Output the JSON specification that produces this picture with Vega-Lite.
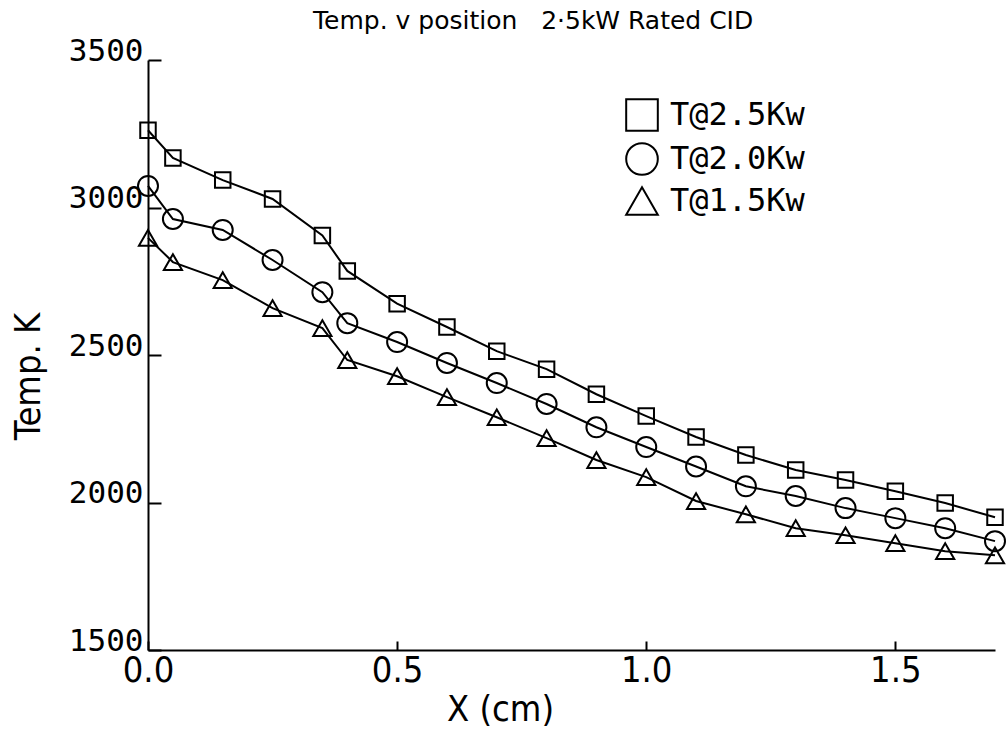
{
  "$schema": "https://vega.github.io/schema/vega-lite/v6.json",
  "width": 847,
  "height": 590,
  "autosize": {"type": "none"},
  "padding": {"left": 148, "top": 60, "right": 11, "bottom": 81},
  "background": "white",
  "config": {"view": {"stroke": null}},
  "title": {
    "text": "Temp. v position \u00a0 2·5kW Rated CID",
    "anchor": "start",
    "frame": "group",
    "dx": 165,
    "offset": -19,
    "baseline": "alphabetic",
    "font": "DejaVu Sans",
    "fontSize": 25,
    "fontWeight": "normal",
    "color": "black"
  },
  "data": {
    "values": [
      {"x": 0.0, "T": 3262, "series": "T@2.5Kw"},
      {"x": 0.05, "T": 3168, "series": "T@2.5Kw"},
      {"x": 0.15, "T": 3093, "series": "T@2.5Kw"},
      {"x": 0.25, "T": 3029, "series": "T@2.5Kw"},
      {"x": 0.35, "T": 2905, "series": "T@2.5Kw"},
      {"x": 0.40, "T": 2785, "series": "T@2.5Kw"},
      {"x": 0.5, "T": 2674, "series": "T@2.5Kw"},
      {"x": 0.6, "T": 2595, "series": "T@2.5Kw"},
      {"x": 0.7, "T": 2513, "series": "T@2.5Kw"},
      {"x": 0.8, "T": 2452, "series": "T@2.5Kw"},
      {"x": 0.9, "T": 2367, "series": "T@2.5Kw"},
      {"x": 1.0, "T": 2293, "series": "T@2.5Kw"},
      {"x": 1.1, "T": 2222, "series": "T@2.5Kw"},
      {"x": 1.2, "T": 2161, "series": "T@2.5Kw"},
      {"x": 1.3, "T": 2110, "series": "T@2.5Kw"},
      {"x": 1.4, "T": 2076, "series": "T@2.5Kw"},
      {"x": 1.5, "T": 2038, "series": "T@2.5Kw"},
      {"x": 1.6, "T": 1998, "series": "T@2.5Kw"},
      {"x": 1.7, "T": 1950, "series": "T@2.5Kw"},
      {"x": 0.0, "T": 3073, "series": "T@2.0Kw"},
      {"x": 0.05, "T": 2961, "series": "T@2.0Kw"},
      {"x": 0.15, "T": 2924, "series": "T@2.0Kw"},
      {"x": 0.25, "T": 2822, "series": "T@2.0Kw"},
      {"x": 0.35, "T": 2713, "series": "T@2.0Kw"},
      {"x": 0.40, "T": 2608, "series": "T@2.0Kw"},
      {"x": 0.5, "T": 2544, "series": "T@2.0Kw"},
      {"x": 0.6, "T": 2473, "series": "T@2.0Kw"},
      {"x": 0.7, "T": 2405, "series": "T@2.0Kw"},
      {"x": 0.8, "T": 2334, "series": "T@2.0Kw"},
      {"x": 0.9, "T": 2255, "series": "T@2.0Kw"},
      {"x": 1.0, "T": 2188, "series": "T@2.0Kw"},
      {"x": 1.1, "T": 2122, "series": "T@2.0Kw"},
      {"x": 1.2, "T": 2055, "series": "T@2.0Kw"},
      {"x": 1.3, "T": 2022, "series": "T@2.0Kw"},
      {"x": 1.4, "T": 1981, "series": "T@2.0Kw"},
      {"x": 1.5, "T": 1947, "series": "T@2.0Kw"},
      {"x": 1.6, "T": 1913, "series": "T@2.0Kw"},
      {"x": 1.7, "T": 1869, "series": "T@2.0Kw"},
      {"x": 0.0, "T": 2897, "series": "T@1.5Kw"},
      {"x": 0.05, "T": 2815, "series": "T@1.5Kw"},
      {"x": 0.15, "T": 2754, "series": "T@1.5Kw"},
      {"x": 0.25, "T": 2659, "series": "T@1.5Kw"},
      {"x": 0.35, "T": 2591, "series": "T@1.5Kw"},
      {"x": 0.40, "T": 2483, "series": "T@1.5Kw"},
      {"x": 0.5, "T": 2428, "series": "T@1.5Kw"},
      {"x": 0.6, "T": 2357, "series": "T@1.5Kw"},
      {"x": 0.7, "T": 2289, "series": "T@1.5Kw"},
      {"x": 0.8, "T": 2218, "series": "T@1.5Kw"},
      {"x": 0.9, "T": 2144, "series": "T@1.5Kw"},
      {"x": 1.0, "T": 2086, "series": "T@1.5Kw"},
      {"x": 1.1, "T": 2005, "series": "T@1.5Kw"},
      {"x": 1.2, "T": 1960, "series": "T@1.5Kw"},
      {"x": 1.3, "T": 1913, "series": "T@1.5Kw"},
      {"x": 1.4, "T": 1889, "series": "T@1.5Kw"},
      {"x": 1.5, "T": 1862, "series": "T@1.5Kw"},
      {"x": 1.6, "T": 1835, "series": "T@1.5Kw"},
      {"x": 1.7, "T": 1821, "series": "T@1.5Kw"}
    ]
  },
  "encoding": {
    "x": {
      "field": "x",
      "type": "quantitative",
      "scale": {"domain": [0, 1.7], "nice": false, "zero": false},
      "axis": {
        "title": "X (cm)",
        "values": [0, 0.5, 1.0, 1.5],
        "format": ".1f",
        "grid": false,
        "domainColor": "black",
        "domainWidth": 2,
        "tickColor": "black",
        "tickWidth": 2,
        "tickSize": -9,
        "labelPadding": 12,
        "labelFont": "Liberation Sans Narrow, DejaVu Sans Condensed, sans-serif",
        "labelFontSize": 36,
        "labelColor": "black",
        "labelBaseline": "top",
        "labelFlush": false,
        "titleFont": "Liberation Sans Narrow, DejaVu Sans Condensed, sans-serif",
        "titleFontSize": 36,
        "titleFontWeight": "normal",
        "titleColor": "black",
        "titleX": 352,
        "titleY": 70,
        "titleAlign": "center",
        "titleBaseline": "alphabetic"
      }
    },
    "y": {
      "field": "T",
      "type": "quantitative",
      "scale": {"domain": [1500, 3500], "nice": false, "zero": false},
      "axis": {
        "title": "Temp. K",
        "values": [1500, 2000, 2500, 3000, 3500],
        "format": "d",
        "grid": false,
        "domainColor": "black",
        "domainWidth": 2,
        "tickColor": "black",
        "tickWidth": 2,
        "tickSize": -13,
        "labelPadding": 18,
        "labelFont": "DejaVu Sans Mono",
        "labelFontSize": 31,
        "labelColor": "black",
        "labelBaseline": "alphabetic",
        "labelFlush": false,
        "titleFont": "Liberation Sans Narrow, DejaVu Sans Condensed, sans-serif",
        "titleFontSize": 36,
        "titleFontWeight": "normal",
        "titleColor": "black",
        "titleAngle": -90,
        "titleX": -120,
        "titleY": 316,
        "titleAlign": "center",
        "titleBaseline": "middle"
      }
    }
  },
  "layer": [
    {
      "mark": {"type": "line", "color": "black", "strokeWidth": 2},
      "encoding": {"detail": {"field": "series", "type": "nominal"}}
    },
    {
      "transform": [{"filter": "datum.series === 'T@2.5Kw'"}],
      "mark": {"type": "point", "filled": false, "color": "black", "strokeWidth": 2, "opacity": 1, "size": 240},
      "encoding": {
        "shape": {
          "field": "series",
          "type": "nominal",
          "scale": {"domain": ["T@2.5Kw", "T@2.0Kw", "T@1.5Kw"], "range": ["square", "circle", "triangle-up"]},
          "legend": {
            "title": null,
            "orient": "none",
            "legendX": 477,
            "legendY": 38,
            "padding": 0,
            "symbolSize": 1000,
            "symbolStrokeWidth": 2,
            "symbolStrokeColor": "black",
            "symbolFillColor": "transparent",
            "symbolOpacity": 1,
            "labelFont": "DejaVu Sans Mono",
            "labelFontSize": 32,
            "labelColor": "black",
            "labelOffset": 11,
            "rowPadding": 4
          }
        }
      }
    },
    {
      "transform": [{"filter": "datum.series === 'T@2.0Kw'"}],
      "mark": {"type": "point", "filled": false, "color": "black", "strokeWidth": 2, "opacity": 1, "size": 400},
      "encoding": {
        "shape": {
          "field": "series",
          "type": "nominal",
          "scale": {"domain": ["T@2.5Kw", "T@2.0Kw", "T@1.5Kw"], "range": ["square", "circle", "triangle-up"]}
        }
      }
    },
    {
      "transform": [{"filter": "datum.series === 'T@1.5Kw'"}],
      "mark": {"type": "point", "filled": false, "color": "black", "strokeWidth": 2, "opacity": 1, "size": 330},
      "encoding": {
        "shape": {
          "field": "series",
          "type": "nominal",
          "scale": {"domain": ["T@2.5Kw", "T@2.0Kw", "T@1.5Kw"], "range": ["square", "circle", "triangle-up"]}
        }
      }
    }
  ]
}
